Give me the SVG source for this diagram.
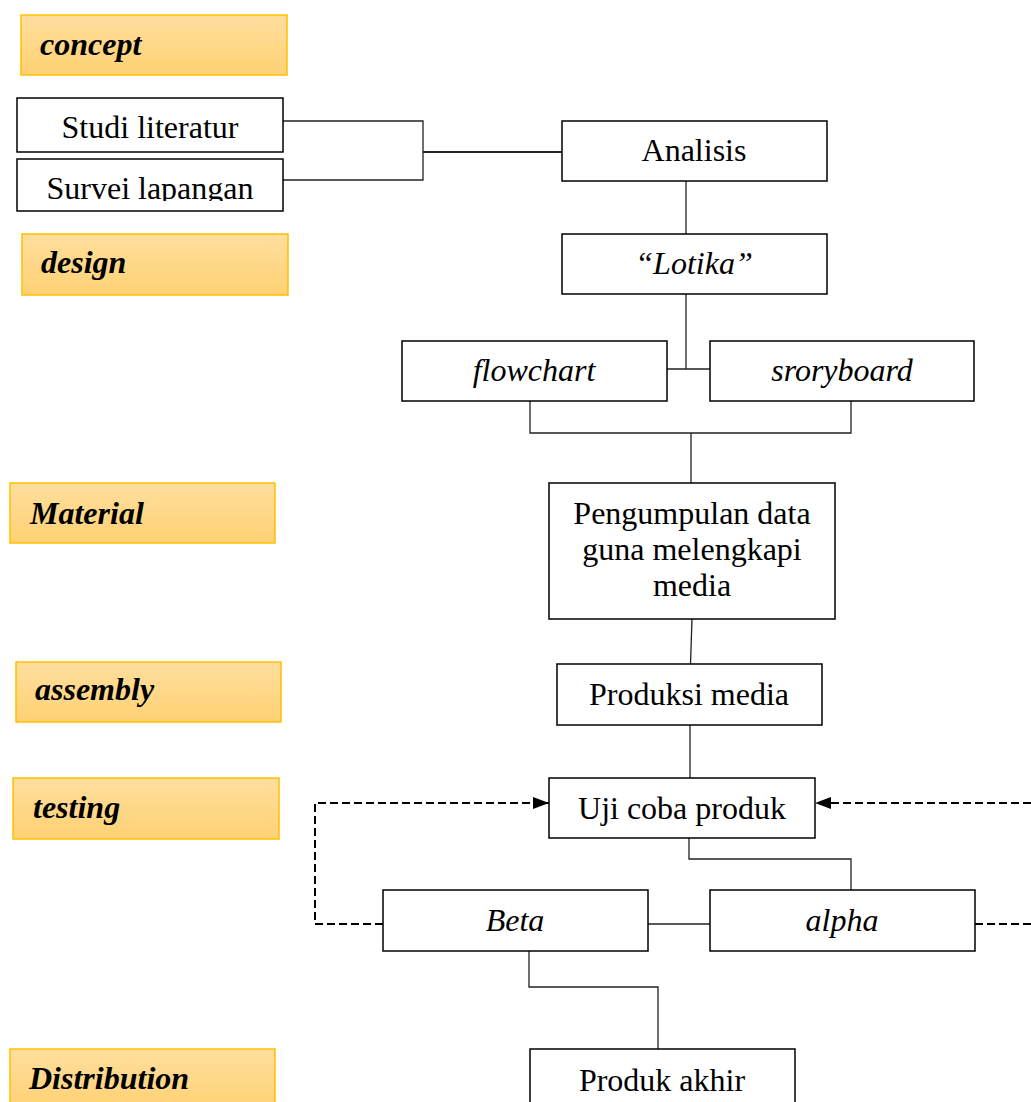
<svg xmlns="http://www.w3.org/2000/svg" width="1031" height="1102" viewBox="0 0 1031 1102">
<defs>
<linearGradient id="gold" x1="0" y1="0" x2="0" y2="1">
<stop offset="0" stop-color="#FFDE9E"/>
<stop offset="1" stop-color="#FED173"/>
</linearGradient>
<marker id="arr" viewBox="0 0 16 12" refX="16" refY="6" markerWidth="16" markerHeight="12" markerUnits="userSpaceOnUse" orient="auto">
<path d="M0,0 L16,6 L0,12 Z" fill="#000"/>
</marker>
<clipPath id="clipSurvei"><rect x="17" y="158" width="267" height="43"/></clipPath>
</defs>
<style>
.stage rect{fill:url(#gold);stroke:#FFC000;stroke-width:1.5}
.stage text{font-family:"Liberation Serif","Times New Roman",serif;font-size:32px;font-weight:bold;font-style:italic;fill:#000}
.node rect{fill:#fff;stroke:#000;stroke-width:1.5}
.node text{font-family:"Liberation Serif","Times New Roman",serif;font-size:32px;fill:#000;text-anchor:middle}
.node text.it{font-style:italic}
.conn path{fill:none;stroke:#222;stroke-width:1.3}
.conn path.thick{stroke-width:2.2}
.conn path.dash{stroke:#000;stroke-width:2;stroke-dasharray:8 4}
</style>

<g id="connectors" class="conn">
<path d="M283,121 H423 V180 H283"/>
<path class="thick" d="M423,152 H562"/>
<path d="M686,181 V234"/>
<path d="M686,294 V369 M667,369 H710"/>
<path d="M530,401 V433 H851 V401 M691,433 V483"/>
<path d="M692,619 L690.5,664"/>
<path d="M690,725 V778"/>
<path d="M689,838 V859 H851 V890"/>
<path d="M648,924 H710"/>
<path d="M529,951 V987 H658 V1049"/>
<path class="dash" d="M383,924 H315 V803 H549" marker-end="url(#arr)"/>
<path class="dash" d="M975,924 H1031"/>
<path class="dash" d="M1031,803 H815" marker-end="url(#arr)"/>
</g>

<g id="stage-concept" class="stage"><rect x="21" y="15" width="266" height="60"/><text x="40" y="55">concept</text></g>
<g id="stage-design" class="stage"><rect x="22" y="234" width="266" height="61"/><text x="41" y="273">design</text></g>
<g id="stage-material" class="stage"><rect x="10" y="483" width="265" height="60"/><text x="30" y="524">Material</text></g>
<g id="stage-assembly" class="stage"><rect x="16" y="662" width="265" height="60"/><text x="35" y="700">assembly</text></g>
<g id="stage-testing" class="stage"><rect x="13" y="778" width="266" height="61"/><text x="33" y="818">testing</text></g>
<g id="stage-distribution" class="stage"><rect x="10" y="1049" width="265" height="61"/><text x="29" y="1089">Distribution</text></g>

<g id="node-studi" class="node"><rect x="17" y="98" width="266" height="54"/><text x="150" y="138">Studi literatur</text></g>
<g id="node-survei" class="node"><rect x="17" y="159" width="266" height="52"/><text x="150" y="199" clip-path="url(#clipSurvei)">Survei lapangan</text></g>
<g id="node-analisis" class="node"><rect x="562" y="121" width="265" height="60"/><text x="694" y="161">Analisis</text></g>
<g id="node-lotika" class="node"><rect x="562" y="234" width="265" height="60"/><text class="it" x="694" y="274">“Lotika”</text></g>
<g id="node-flowchart" class="node"><rect x="402" y="341" width="265" height="60"/><text class="it" x="534" y="381">flowchart</text></g>
<g id="node-storyboard" class="node"><rect x="710" y="341" width="264" height="60"/><text class="it" x="842" y="381">sroryboard</text></g>
<g id="node-pengumpulan" class="node"><rect x="549" y="483" width="286" height="136"/><text x="692" y="524">Pengumpulan data</text><text x="692" y="560">guna melengkapi</text><text x="692" y="596">media</text></g>
<g id="node-produksi" class="node"><rect x="557" y="664" width="265" height="61"/><text x="689" y="705">Produksi media</text></g>
<g id="node-uji" class="node"><rect x="549" y="778" width="266" height="60"/><text x="682" y="819">Uji coba produk</text></g>
<g id="node-beta" class="node"><rect x="383" y="890" width="265" height="61"/><text class="it" x="515" y="931">Beta</text></g>
<g id="node-alpha" class="node"><rect x="710" y="890" width="265" height="61"/><text class="it" x="842" y="931">alpha</text></g>
<g id="node-produk" class="node"><rect x="530" y="1049" width="265" height="70"/><text x="662" y="1091">Produk akhir</text></g>
</svg>
